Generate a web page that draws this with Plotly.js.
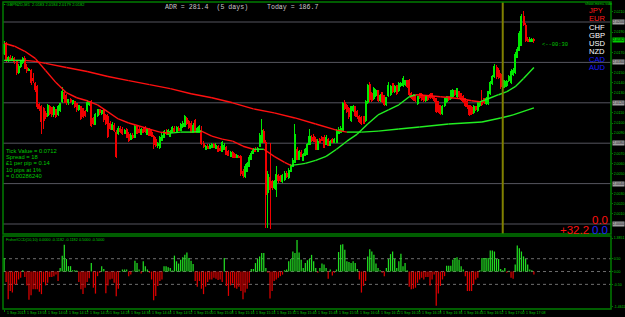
<!DOCTYPE html>
<html><head><meta charset="utf-8">
<script src="https://cdn.plot.ly/plotly-3.0.1.min.js"></script>
<style>html,body{margin:0;padding:0;background:#000;overflow:hidden}#chart{width:625px;height:317px}
#chart .boxlayer path{shape-rendering:crispEdges}</style>
</head><body><div id="chart"></div>
<script>
// ---------------- data ----------------
const symbolText = "GBPNZD,M1";
const openP = [
2.0169,2.0178,2.0162,2.0165,2.0163,2.0164,2.0161,2.0150,2.0156,2.0160,
2.0164,2.0155,2.0152,2.0152,2.0144,2.0139,2.0136,2.0118,2.0116,2.0114,
2.0109,2.0107,2.0116,2.0115,2.0108,2.0113,2.0108,2.0112,2.0121,2.0130,
2.0127,2.0120,2.0123,2.0119,2.0121,2.0119,2.0113,2.0116,2.0114,2.0111,
2.0112,2.0118,2.0121,2.0104,2.0099,2.0107,2.0113,2.0109,2.0112,2.0107,
2.0106,2.0100,2.0094,2.0098,2.0091,2.0090,2.0095,2.0094,2.0090,2.0094,
2.0089,2.0084,2.0088,2.0086,2.0097,2.0094,2.0089,2.0094,2.0095,2.0089,
2.0094,2.0091,2.0087,2.0084,2.0078,2.0076,2.0083,2.0086,2.0091,2.0089,
2.0087,2.0091,2.0095,2.0091,2.0095,2.0093,2.0097,2.0097,2.0104,2.0101,
2.0100,2.0091,2.0102,2.0091,2.0091,2.0093,2.0080,2.0074,2.0077,2.0075,
2.0076,2.0079,2.0075,2.0077,2.0075,2.0072,2.0074,2.0076,2.0072,2.0067,
2.0071,2.0069,2.0066,2.0067,2.0067,2.0052,2.0047,2.0052,2.0057,2.0064,
2.0070,2.0074,2.0072,2.0077,2.0081,2.0092,2.0081,2.0031,2.0046,2.0042,
2.0036,2.0034,2.0048,2.0047,2.0042,2.0044,2.0050,2.0046,2.0052,2.0057,
2.0061,2.0074,2.0064,2.0071,2.0063,2.0068,2.0069,2.0079,2.0086,2.0087,
2.0084,2.0074,2.0084,2.0086,2.0086,2.0079,2.0084,2.0078,2.0084,2.0081,
2.0081,2.0090,2.0091,2.0093,2.0120,2.0117,2.0114,2.0102,2.0112,2.0116,
2.0111,2.0106,2.0105,2.0106,2.0102,2.0120,2.0138,2.0129,2.0124,2.0127,
2.0132,2.0122,2.0130,2.0127,2.0118,2.0127,2.0128,2.0139,2.0131,2.0137,
2.0132,2.0137,2.0137,2.0138,2.0142,2.0142,2.0129,2.0127,2.0127,2.0119,
2.0129,2.0128,2.0127,2.0122,2.0127,2.0128,2.0129,2.0126,2.0124,2.0121,
2.0117,2.0109,2.0117,2.0121,2.0126,2.0124,2.0126,2.0132,2.0126,2.0131,
2.0129,2.0126,2.0124,2.0121,2.0117,2.0115,2.0110,2.0116,2.0112,2.0117,
2.0122,2.0124,2.0119,2.0119,2.0129,2.0139,2.0146,2.0155,2.0152,2.0148,
2.0135,2.0136,2.0137,2.0142,2.0140,2.0148,2.0150,2.0165,2.0172,2.0177,
2.0205,2.0197,2.0183,2.0181,2.0181,2.0183];
const highP = [
2.0181,2.0180,2.0166,2.0167,2.0166,2.0165,2.0162,2.0158,2.0162,2.0165,
2.0166,2.0158,2.0154,2.0153,2.0150,2.0141,2.0138,2.0120,2.0118,2.0116,
2.0112,2.0119,2.0118,2.0116,2.0117,2.0114,2.0118,2.0120,2.0136,2.0132,
2.0129,2.0124,2.0125,2.0123,2.0122,2.0120,2.0118,2.0117,2.0115,2.0113,
2.0123,2.0122,2.0123,2.0106,2.0110,2.0114,2.0114,2.0113,2.0114,2.0109,
2.0109,2.0102,2.0101,2.0100,2.0093,2.0097,2.0097,2.0096,2.0094,2.0095,
2.0091,2.0090,2.0090,2.0099,2.0098,2.0096,2.0095,2.0096,2.0097,2.0095,
2.0095,2.0093,2.0088,2.0086,2.0081,2.0087,2.0090,2.0093,2.0094,2.0094,
2.0093,2.0097,2.0097,2.0097,2.0097,2.0100,2.0102,2.0108,2.0106,2.0103,
2.0102,2.0100,2.0104,2.0096,2.0098,2.0097,2.0082,2.0078,2.0079,2.0079,
2.0080,2.0080,2.0080,2.0078,2.0077,2.0082,2.0080,2.0077,2.0073,2.0072,
2.0072,2.0070,2.0069,2.0068,2.0068,2.0054,2.0059,2.0061,2.0068,2.0072,
2.0075,2.0076,2.0076,2.0090,2.0104,2.0094,2.0083,2.0052,2.0080,2.0044,
2.0044,2.0057,2.0050,2.0049,2.0050,2.0052,2.0052,2.0055,2.0059,2.0065,
2.0099,2.0076,2.0073,2.0073,2.0070,2.0075,2.0080,2.0094,2.0088,2.0089,
2.0086,2.0084,2.0085,2.0087,2.0088,2.0088,2.0085,2.0083,2.0085,2.0085,
2.0094,2.0096,2.0097,2.0121,2.0123,2.0119,2.0116,2.0117,2.0118,2.0117,
2.0113,2.0108,2.0107,2.0107,2.0123,2.0139,2.0141,2.0131,2.0136,2.0134,
2.0133,2.0129,2.0131,2.0128,2.0126,2.0141,2.0138,2.0140,2.0138,2.0138,
2.0141,2.0141,2.0147,2.0143,2.0143,2.0144,2.0131,2.0129,2.0128,2.0127,
2.0130,2.0130,2.0128,2.0128,2.0128,2.0130,2.0130,2.0127,2.0125,2.0122,
2.0118,2.0118,2.0125,2.0127,2.0127,2.0133,2.0134,2.0133,2.0135,2.0132,
2.0130,2.0128,2.0125,2.0123,2.0118,2.0117,2.0118,2.0117,2.0121,2.0122,
2.0133,2.0125,2.0126,2.0132,2.0142,2.0148,2.0158,2.0157,2.0154,2.0150,
2.0144,2.0143,2.0143,2.0148,2.0153,2.0154,2.0170,2.0175,2.0191,2.0208,
2.0211,2.0199,2.0185,2.0185,2.0184,2.0184];
const lowP = [
2.0167,2.0160,2.0160,2.0161,2.0161,2.0158,2.0148,2.0149,2.0154,2.0158,
2.0153,2.0150,2.0151,2.0138,2.0140,2.0131,2.0114,2.0112,2.0089,2.0094,
2.0104,2.0106,2.0108,2.0106,2.0106,2.0105,2.0107,2.0111,2.0120,2.0120,
2.0118,2.0118,2.0120,2.0118,2.0115,2.0111,2.0112,2.0103,2.0105,2.0106,
2.0111,2.0117,2.0096,2.0098,2.0098,2.0106,2.0108,2.0108,2.0101,2.0098,
2.0085,2.0093,2.0093,2.0091,2.0065,2.0088,2.0090,2.0088,2.0089,2.0085,
2.0081,2.0083,2.0084,2.0085,2.0089,2.0090,2.0088,2.0090,2.0090,2.0088,
2.0087,2.0086,2.0074,2.0076,2.0075,2.0074,2.0082,2.0085,2.0088,2.0088,
2.0086,2.0090,2.0091,2.0090,2.0092,2.0092,2.0095,2.0096,2.0098,2.0094,
2.0090,2.0090,2.0090,2.0090,2.0090,2.0078,2.0075,2.0073,2.0074,2.0074,
2.0075,2.0075,2.0074,2.0071,2.0072,2.0071,2.0073,2.0068,2.0067,2.0066,
2.0065,2.0065,2.0065,2.0065,2.0048,2.0046,2.0046,2.0051,2.0056,2.0063,
2.0069,2.0071,2.0071,2.0076,2.0080,2.0080,1.9996,1.9996,1.9995,2.0034,
2.0035,2.0027,2.0041,2.0042,2.0041,2.0043,2.0046,2.0045,2.0051,2.0056,
2.0060,2.0063,2.0063,2.0066,2.0062,2.0067,2.0068,2.0078,2.0081,2.0081,
2.0073,2.0073,2.0080,2.0082,2.0075,2.0078,2.0077,2.0077,2.0080,2.0080,
2.0080,2.0089,2.0090,2.0092,2.0113,2.0110,2.0104,2.0101,2.0111,2.0106,
2.0104,2.0100,2.0098,2.0099,2.0101,2.0119,2.0121,2.0121,2.0123,2.0126,
2.0121,2.0121,2.0120,2.0117,2.0117,2.0126,2.0127,2.0130,2.0130,2.0128,
2.0131,2.0136,2.0136,2.0137,2.0135,2.0127,2.0124,2.0122,2.0121,2.0118,
2.0124,2.0122,2.0121,2.0121,2.0122,2.0124,2.0124,2.0121,2.0110,2.0110,
2.0108,2.0108,2.0116,2.0120,2.0122,2.0123,2.0125,2.0127,2.0125,2.0124,
2.0122,2.0120,2.0116,2.0114,2.0107,2.0108,2.0109,2.0112,2.0111,2.0116,
2.0117,2.0119,2.0118,2.0118,2.0128,2.0138,2.0145,2.0144,2.0144,2.0134,
2.0134,2.0135,2.0136,2.0141,2.0139,2.0147,2.0149,2.0164,2.0171,2.0176,
2.0196,2.0180,2.0180,2.0180,2.0180,2.0179];
const closeP = [
2.0178,2.0162,2.0165,2.0163,2.0164,2.0161,2.0150,2.0156,2.0161,2.0164,
2.0154,2.0152,2.0153,2.0140,2.0142,2.0133,2.0116,2.0114,2.0101,2.0102,
2.0106,2.0117,2.0109,2.0108,2.0115,2.0106,2.0116,2.0119,2.0131,2.0124,
2.0120,2.0123,2.0121,2.0122,2.0116,2.0113,2.0117,2.0104,2.0106,2.0107,
2.0120,2.0121,2.0098,2.0100,2.0108,2.0113,2.0110,2.0112,2.0103,2.0100,
2.0087,2.0095,2.0099,2.0093,2.0067,2.0095,2.0092,2.0090,2.0093,2.0086,
2.0083,2.0088,2.0086,2.0097,2.0090,2.0091,2.0094,2.0091,2.0092,2.0094,
2.0088,2.0087,2.0079,2.0078,2.0080,2.0086,2.0088,2.0092,2.0090,2.0093,
2.0092,2.0096,2.0092,2.0096,2.0093,2.0099,2.0100,2.0106,2.0100,2.0096,
2.0091,2.0098,2.0091,2.0095,2.0097,2.0080,2.0077,2.0077,2.0075,2.0078,
2.0079,2.0076,2.0078,2.0072,2.0073,2.0081,2.0078,2.0069,2.0068,2.0071,
2.0066,2.0066,2.0068,2.0066,2.0050,2.0048,2.0057,2.0060,2.0066,2.0070,
2.0074,2.0072,2.0075,2.0088,2.0093,2.0081,2.0029,2.0049,2.0034,2.0036,
2.0042,2.0049,2.0043,2.0043,2.0048,2.0050,2.0047,2.0053,2.0057,2.0063,
2.0089,2.0064,2.0072,2.0067,2.0069,2.0074,2.0079,2.0087,2.0083,2.0082,
2.0074,2.0082,2.0081,2.0083,2.0076,2.0086,2.0078,2.0082,2.0081,2.0084,
2.0092,2.0094,2.0095,2.0119,2.0114,2.0111,2.0106,2.0116,2.0116,2.0107,
2.0106,2.0101,2.0100,2.0100,2.0121,2.0137,2.0123,2.0122,2.0134,2.0132,
2.0122,2.0127,2.0121,2.0118,2.0125,2.0137,2.0136,2.0131,2.0136,2.0129,
2.0139,2.0139,2.0144,2.0142,2.0136,2.0128,2.0125,2.0123,2.0122,2.0126,
2.0125,2.0123,2.0122,2.0127,2.0123,2.0125,2.0125,2.0122,2.0111,2.0111,
2.0109,2.0116,2.0124,2.0126,2.0123,2.0132,2.0132,2.0128,2.0134,2.0126,
2.0123,2.0121,2.0117,2.0116,2.0108,2.0109,2.0116,2.0113,2.0120,2.0121,
2.0118,2.0120,2.0124,2.0131,2.0140,2.0146,2.0156,2.0146,2.0145,2.0136,
2.0142,2.0141,2.0141,2.0146,2.0151,2.0152,2.0168,2.0173,2.0189,2.0205,
2.0198,2.0182,2.0181,2.0183,2.0183,2.0182];

// moving averages (read at sampled bars)
const maFastBars = [0,5,10,15,20,25,30,35,40,45,50,55,60,65,70,75,80,85,90,95,100,105,110,115,120,125,130,135,138,142,145,150,155,160,165,170,175,180,185,190,195,198,205,210,215,220,225,229,233,238,242,246,250,255];
const maFastVals = [2.0179,2.0176,2.0171,2.0164,2.0152,2.0140,2.0130,2.0125,2.0122,2.0118,2.0111,2.0104,2.0100,2.0097,2.0094,2.0091,2.0090,2.0091,2.0091,2.0092,2.0087,2.0084,2.0082,2.0077,2.0074,2.0074,2.0067,2.0061,2.0058,2.0059,2.0060,2.0063,2.0067,2.0074,2.0082,2.0089,2.0099,2.0108,2.0113,2.0118,2.0126,2.0128,2.0127,2.0126,2.0125,2.0124,2.0122,2.0121,2.0124,2.0128,2.0131,2.0136,2.0144,2.0155];
const maSlowBars = [0,5,10,15,20,30,40,50,60,70,80,90,100,110,120,130,140,150,160,165,172,180,190,200,214,230,239,245,255];
const maSlowVals = [2.0162,2.0162,2.0162,2.0161,2.0159,2.0155,2.0151,2.0146,2.0142,2.0138,2.0134,2.0129,2.0125,2.0120,2.0114,2.0110,2.0105,2.0099,2.0093,2.0091,2.0091,2.0092,2.0094,2.0096,2.0099,2.0101,2.0105,2.0108,2.0115];

// lower indicator histogram
const histVals = [
0.53,-0.41,-1.08,-0.76,-0.82,-0.50,-0.50,-0.31,-0.24,0.05,
-0.21,-0.54,-1.10,-0.92,-0.69,-0.69,-0.69,-0.79,-0.88,-0.41,
-0.54,-0.44,-0.21,-0.21,-0.18,-0.12,-0.37,0.14,0.62,1.04,
0.49,0.21,0.21,0.05,0.05,0.04,-0.41,-0.69,-0.88,-0.63,
-0.41,-0.26,0.33,-0.63,-0.86,-0.18,-0.05,0.21,0.10,-0.85,
-0.54,-0.31,-0.28,-0.44,-0.96,-0.67,0.02,0.08,0.08,0.08,
-0.18,-0.12,0.03,0.42,0.33,0.08,-0.08,0.40,0.21,0.08,
-0.05,-0.31,-1.12,-0.95,-0.56,-0.37,-0.31,0.21,0.21,0.17,
0.14,0.04,0.62,0.40,0.31,0.46,0.56,0.65,0.74,0.53,
0.42,0.29,-0.37,-0.59,-0.37,-0.67,-0.88,-0.59,-0.41,-0.31,
-0.31,-0.24,-0.28,-0.33,-0.31,-0.41,0.53,-0.56,-0.95,-0.54,
-0.46,-0.63,-0.67,-0.59,-0.76,-1.08,-0.82,-0.67,-0.44,0.10,
0.10,0.33,0.49,0.59,0.72,0.72,0.14,-0.05,-1.05,-0.76,
-0.37,-0.31,-0.24,-0.18,-0.12,0.05,0.08,0.40,0.49,0.78,
0.72,1.23,0.74,0.46,0.14,0.33,0.44,0.49,0.65,0.40,
0.14,-0.05,0.14,0.31,0.27,0.14,-0.28,0.08,-0.15,-0.05,
0.08,0.76,1.04,1.06,0.85,0.40,0.37,0.33,0.40,0.33,
0.10,-0.31,-0.82,-0.56,-0.37,0.59,0.87,0.78,0.65,0.31,
0.14,0.05,-0.05,-0.18,0.14,0.49,0.68,0.78,0.49,0.14,
0.40,0.69,0.21,0.33,0.05,-0.59,-0.69,-0.67,-0.63,-0.44,
-0.31,-0.24,-0.31,-0.21,-0.21,-0.54,-0.31,-0.12,-1.33,-0.86,
-0.56,-0.31,-0.18,0.23,0.23,0.23,0.46,0.53,0.56,0.46,
0.21,0.08,-0.18,-0.76,-0.76,-0.76,-0.50,-0.31,-0.24,0.05,
0.53,0.53,0.53,0.53,0.82,0.82,0.78,0.49,0.49,0.10,
0.05,0.14,-0.05,0.03,-0.24,-0.28,0.27,1.01,0.91,0.78,
0.59,0.49,0.27,0.08,0.05,-0.12];

const timeTickBars = [0,10,20,30,40,50,60,70,80,90,100,110,120,130,140,150,160,170,180,190,200,210,220,230,240,250];
const timeTickLabels = ["1 Sep 2013","1 Sep 13:56","1 Sep 14:04","1 Sep 14:12","1 Sep 14:20","1 Sep 14:28","1 Sep 14:36","1 Sep 14:44","1 Sep 14:52","1 Sep 15:00","1 Sep 15:08","1 Sep 15:16","1 Sep 15:24","1 Sep 15:32","1 Sep 15:40","1 Sep 15:48","1 Sep 15:56","1 Sep 16:04","1 Sep 16:12","1 Sep 16:20","1 Sep 16:28","1 Sep 16:36","1 Sep 16:44","1 Sep 16:52","1 Sep 17:00","1 Sep 17:08"];

const priceGridVals = [2.0000,2.0040,2.0080,2.0120,2.0160,2.0200];
const priceLabelVals = [2.0010,2.0020,2.0030,2.0050,2.0060,2.0070,2.0090,2.0100,2.0110,2.0130,2.0140,2.0150,2.0170,2.0180,2.0190,2.0210];
const histLevels = [0.5,0,-0.5];
const histTickVals = [1.30,0.5,0,-0.5,-1.38];
const histTickText = ["1.3851","0.50","0.00","-0.50","-1.4611"];
const histLabelText = "FisherICCD(10,10) 0.0000 -0.1182 -0.1182 0.5000 -0.5000";

const adrText = "ADR = 281.4  (5 days)";
const todayText = "Today = 186.7";
const currencies = ["JPY","EUR","CHF","GBP","USD","NZD","CAD","AUD"];
const currencyGroup = ["weak","weak","mid","mid","mid","mid","strong","strong"];
const infoLines = ["Tick Value = 0.0712","Spread = 18","\u00A31 per pip = 0.14","10 pips at 1%","= 0.00286240"];
const timerText = "<--00:30";
const menuText = "show.menu.side";
const scoreTop = "0.0";
const scoreLeft = "+32.2";
const scoreRight = "0.0";
const vlineBar = 240;

// ---------------- drawing ----------------
const bars = closeP.map((_, i) => i);
const GREEN = '#00e800', RED = '#f00000', FRAME = '#007c00', TXT = '#00c800';
const W = 625, H = 317, ML = 3, MR = 14, MT = 2, MB = 8;
const PW = W - ML - MR, PH = H - MT - MB;
const px = x => (x - ML) / PW;
const py = y => (H - MB - y) / PH;
const mainDom = [py(234), 1];
const histDom = [0, py(236)];

function splitBySlope(xs, ys) {
  const up = {x: [], y: []}, dn = {x: [], y: []};
  for (let k = 0; k < xs.length - 1; k++) {
    const t = ys[k + 1] >= ys[k] ? up : dn;
    t.x.push(xs[k], xs[k + 1], null); t.y.push(ys[k], ys[k + 1], null);
  }
  return [up, dn];
}
const [fUp, fDn] = splitBySlope(maFastBars, maFastVals);
const [sUp, sDn] = splitBySlope(maSlowBars, maSlowVals);
const lineTrace = (s, c) => ({type: 'scatter', mode: 'lines', x: s.x, y: s.y, xaxis: 'x', yaxis: 'y',
  line: {color: c, width: 1.4}, connectgaps: false, hoverinfo: 'skip', showlegend: false});

const histPos = histVals.map(v => v >= 0 ? v : null);
const histNeg = histVals.map(v => v < 0 ? v : null);
const histTrace = (ys, c) => ({type: 'bar', x: bars, y: ys, xaxis: 'x', yaxis: 'y2', width: 0.6,
  marker: {color: c, line: {width: 0}}, hoverinfo: 'skip', showlegend: false});

const traces = [
  {type: 'candlestick', x: bars, open: openP, high: highP, low: lowP, close: closeP, xaxis: 'x', yaxis: 'y',
   increasing: {line: {color: GREEN, width: 1}, fillcolor: GREEN},
   decreasing: {line: {color: RED, width: 1}, fillcolor: RED},
   whiskerwidth: 0, hoverinfo: 'skip', showlegend: false},
  lineTrace(sDn, '#ff1010'), lineTrace(sUp, '#22ee22'),
  lineTrace(fDn, '#ff1010'), lineTrace(fUp, '#22ee22'),
  histTrace(histPos, '#22dd22'), histTrace(histNeg, '#dd0000')
];

const shapes = [];
priceGridVals.forEach(v => shapes.push({type: 'line', xref: 'paper', x0: 0, x1: 1, yref: 'y', y0: v, y1: v,
  line: {color: '#55555e', width: 1}, layer: 'below'}));
histLevels.forEach(v => shapes.push({type: 'line', xref: 'paper', x0: 0, x1: 1, yref: 'y2', y0: v, y1: v,
  line: {color: '#6e6e6e', width: 1, dash: 'dot'}, layer: 'below'}));
shapes.push({type: 'line', xref: 'x', x0: vlineBar, x1: vlineBar, yref: 'paper', y0: mainDom[0], y1: 1,
  line: {color: '#808000', width: 2}});
shapes.push({type: 'rect', xref: 'paper', x0: 0, x1: 1, yref: 'paper', y0: mainDom[0], y1: 1, line: {color: FRAME, width: 1.5}});
shapes.push({type: 'rect', xref: 'paper', x0: 0, x1: 1, yref: 'paper', y0: histDom[0], y1: histDom[1], line: {color: FRAME, width: 1.5}});

const ann = [];
const txt = (text, x, y, opt) => ann.push(Object.assign({text, xref: 'paper', yref: 'paper', x: px(x), y: py(y),
  xanchor: 'left', yanchor: 'middle', showarrow: false, font: {family: 'Liberation Sans', size: 5, color: TXT}}, opt || {}));
const last = closeP.length - 1;
const f4 = v => v.toFixed(4);
txt('\u25AA ' + symbolText + '  ' + [openP[last], highP[last], lowP[last], closeP[last]].map(f4).join(' '), 2, 4.5, {font: {family: 'Liberation Sans', size: 4, color: TXT}});
txt(adrText, 163, 7.5, {font: {family: 'Liberation Mono', size: 6.6, color: '#c8c8c8'}});
txt(todayText, 265, 7.5, {font: {family: 'Liberation Mono', size: 6.6, color: '#c8c8c8'}});
txt(menuText, 583, 4, {font: {family: 'Liberation Sans', size: 3.8, color: TXT}});
const groupColor = {weak: '#ff1a1a', mid: '#ffffff', strong: '#1a1aff'};
currencies.forEach((c, k) => txt(c, 587, 10.8 + k * 8.15, {font: {family: 'Liberation Sans', size: 7.6, color: groupColor[currencyGroup[k]]}}));
txt(timerText, 540, 45.5, {font: {family: 'Liberation Mono', size: 5.4, color: TXT}});
infoLines.forEach((s, k) => txt(s, 4, 150.5 + k * 6.45, {font: {family: 'Liberation Sans', size: 5.8, color: TXT}}));
txt(scoreTop, 610, 219.5, {xanchor: 'right', font: {family: 'Liberation Sans', size: 11.5, color: '#ff1010'}});
txt(scoreLeft, 591, 229.5, {xanchor: 'right', font: {family: 'Liberation Sans', size: 11.5, color: '#ff1010'}});
txt(scoreRight, 610, 229.5, {xanchor: 'right', font: {family: 'Liberation Sans', size: 11.5, color: '#2020ff'}});
txt(histLabelText, 4, 239.5, {font: {family: 'Liberation Sans', size: 3.8, color: TXT}});
// time labels, written to the right of their tick like the terminal does
timeTickBars.forEach((b, k) => ann.push({text: timeTickLabels[k], xref: 'x', yref: 'paper', x: b, y: py(313.2),
  xanchor: 'left', yanchor: 'middle', xshift: 0.5, showarrow: false,
  font: {family: 'Liberation Sans', size: 3.6, color: TXT}}));
// boxed price labels on the right scale
priceGridVals.forEach(v => ann.push({text: f4(v), xref: 'paper', yref: 'y', x: 1, y: v, xanchor: 'left', yanchor: 'middle', xshift: 1,
  showarrow: false, bgcolor: '#a0a0a0', borderpad: 0, font: {family: 'Liberation Sans', size: 3.6, color: '#202020'}}));
ann.push({text: f4(closeP[last]), xref: 'paper', yref: 'y', x: 1, y: closeP[last], xanchor: 'left', yanchor: 'middle', xshift: 1,
  showarrow: false, bgcolor: '#00d000', borderpad: 0, font: {family: 'Liberation Sans', size: 3.6, color: '#000000'}});
// the live-price box hides the scale label it sits on
const shownPriceLabels = priceLabelVals.filter(v => Math.abs(v - closeP[last]) > 0.0005);

const tickFont = {family: 'Liberation Sans', size: 3.5, color: TXT};
const layout = {
  width: W, height: H, margin: {l: ML, r: MR, t: MT, b: MB, pad: 0},
  paper_bgcolor: '#000', plot_bgcolor: '#000', showlegend: false, dragmode: false, barmode: 'overlay',
  xaxis: {range: [-0.5, 292.1], anchor: 'y2', showgrid: false, zeroline: false, showline: false,
    tickmode: 'array', tickvals: timeTickBars, showticklabels: false, ticks: 'outside', ticklen: 1.5,
    tickcolor: FRAME, rangeslider: {visible: false}, fixedrange: true},
  yaxis: {domain: mainDom, range: [1.99901, 2.02198], side: 'right', anchor: 'x', showgrid: false, zeroline: false,
    showline: false, tickmode: 'array', tickvals: shownPriceLabels, ticktext: shownPriceLabels.map(f4), ticks: 'outside',
    ticklen: 1, tickcolor: FRAME, tickfont: tickFont, fixedrange: true},
  yaxis2: {domain: histDom, range: [-1.46, 1.385], side: 'right', anchor: 'x', showgrid: false, zeroline: false,
    showline: false, tickmode: 'array', tickvals: histTickVals, ticktext: histTickText, ticks: 'outside',
    ticklen: 1, tickcolor: FRAME, tickfont: tickFont, fixedrange: true},
  shapes: shapes, annotations: ann
};
Plotly.newPlot('chart', traces, layout, {displayModeBar: false, staticPlot: true});
</script></body></html>
